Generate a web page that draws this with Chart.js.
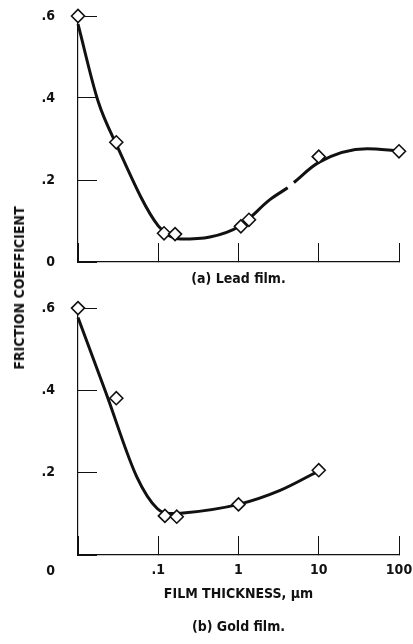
<!DOCTYPE html>
<html>
<head>
<meta charset="utf-8">
<script src="https://cdn.jsdelivr.net/npm/chart.js@4.4.1/dist/chart.umd.min.js"></script>
<style>
  body { margin: 0; background: #fff; }
  #page { position: relative; width: 413px; height: 644px; overflow: hidden; }
  canvas { position: absolute; left: 0; }
  #lead { top: 0; }
  #gold { top: 300px; }
  #ytitle {
    position: absolute; left: 19px; top: 288px;
    transform: translate(-50%, -50%) rotate(-90deg);
    white-space: nowrap; color: #111;
    font: bold 14px "Liberation Sans Narrow", "DejaVu Sans Condensed", "Liberation Sans", sans-serif;
  }
</style>
</head>
<body>
<div id="page">
  <canvas id="lead" width="413" height="300"></canvas>
  <canvas id="gold" width="413" height="344"></canvas>
  <div id="ytitle">FRICTION COEFFICIENT</div>
</div>
<script>
// film thickness (um); the "0" end of the axis sits at 0.01 on the log scale
var xTicks = [0.01, 0.1, 1, 10, 100];
var xTickLabels = ['', '.1', '1', '10', '100'];
var yTicks = [0, 0.2, 0.4, 0.6];
var yTickLabels = ['0', '.2', '.4', '.6'];

// (a) lead film - measured points
var leadX = [0.01, 0.03, 0.118, 0.162, 1.07, 1.35, 10, 100];
var leadY = [0.60, 0.292, 0.070, 0.068, 0.087, 0.103, 0.257, 0.270];
// faired curve (null = small break in the line)
var leadCurveX = [0.01, 0.0178, 0.03, 0.1, 0.19, 0.44, 1.04, 2.46, 4.1, 4.5, 4.9, 10, 40, 100];
var leadCurveY = [0.58, 0.392, 0.287, 0.088, 0.056, 0.061, 0.088, 0.152, 0.181, null, 0.194, 0.243, 0.276, 0.271];

// (b) gold film
var goldX = [0.01, 0.03, 0.121, 0.17, 1.0, 10];
var goldY = [0.60, 0.381, 0.095, 0.093, 0.123, 0.206];
var goldCurveX = [0.01, 0.0224, 0.054, 0.097, 0.14, 0.205, 1.0, 3.3, 9.5];
var goldCurveY = [0.577, 0.393, 0.19, 0.113, 0.101, 0.102, 0.123, 0.157, 0.202];

var FONT = '"Liberation Sans Narrow", "DejaVu Sans Condensed", "Liberation Sans", sans-serif';
var INK = '#111';
Chart.defaults.font.family = FONT;
Chart.defaults.font.size = 14;
Chart.defaults.font.weight = 'bold';
Chart.defaults.color = INK;

function pts(xs, ys) {
  return xs.map(function (x, i) { return { x: x, y: ys[i] }; });
}

function makeChart(id, opt) {
  return new Chart(document.getElementById(id), {
    type: 'scatter',
    data: {
      datasets: [
        {
          data: pts(opt.px, opt.py),
          pointStyle: 'rectRot',
          pointRadius: 6.5,
          pointBorderWidth: 1.6,
          pointBackgroundColor: '#fff',
          pointBorderColor: INK,
          clip: false,
          order: 0
        },
        {
          data: pts(opt.cx, opt.cy),
          showLine: true,
          spanGaps: false,
          cubicInterpolationMode: 'monotone',
          borderColor: INK,
          borderWidth: 3,
          pointRadius: 0,
          clip: false,
          order: 1
        }
      ]
    },
    options: {
      responsive: false,
      animation: false,
      layout: { padding: { top: opt.top, right: 14, left: 0, bottom: 0 } },
      plugins: {
        legend: { display: false },
        tooltip: { enabled: false }
      },
      scales: {
        x: {
          type: 'logarithmic',
          position: 'bottom',
          min: 0.01,
          max: 100,
          afterBuildTicks: function (s) { s.ticks = xTicks.map(function (v) { return { value: v }; }); },
          afterFit: function (s) { s.height = opt.xh; s.paddingLeft = 0; s.paddingRight = 0; },
          ticks: {
            display: opt.xLabels,
            autoSkip: false,
            maxRotation: 0,
            padding: 26,
            callback: function (v, i) { return xTickLabels[i]; }
          },
          grid: { drawOnChartArea: false, drawTicks: true, tickLength: -19, color: INK, lineWidth: 1 },
          border: { display: true, color: INK, width: 1.2 },
          // axis title plus the panel caption, centred under the plot
          title: {
            display: true,
            text: opt.xTitle,
            font: { size: 14, weight: 'bold', lineHeight: '33px' },
            padding: { top: 0, bottom: opt.titlePad }
          }
        },
        y: {
          min: 0,
          max: 0.6,
          afterBuildTicks: function (s) { s.ticks = yTicks.map(function (v) { return { value: v }; }); },
          // inward ticks need a big label padding; keep it from pushing the plot area
          afterFit: function (s) { s.width = 78; s.paddingTop = 0; s.paddingBottom = 0; },
          ticks: {
            padding: 42,
            font: { lineHeight: 1.2 },
            callback: function (v, i) {
              // the bottom panel's zero sits down on the thickness-label line
              if (i === 0 && opt.lowZero) return ['', '', yTickLabels[i]];
              return yTickLabels[i];
            }
          },
          grid: { drawOnChartArea: false, drawTicks: true, tickLength: -19, color: INK, lineWidth: 1 },
          border: { display: true, color: INK, width: 1.2 }
        }
      }
    }
  });
}

makeChart('lead', {
  px: leadX, py: leadY, cx: leadCurveX, cy: leadCurveY,
  top: 16, xh: 38, xLabels: false,
  xTitle: '(a) Lead film.', titlePad: 4.5
});

makeChart('gold', {
  px: goldX, py: goldY, cx: goldCurveX, cy: goldCurveY,
  top: 7, xh: 89, xLabels: true, lowZero: true,
  xTitle: ['FILM THICKNESS, \u00b5m', '(b) Gold film.'], titlePad: 0
});
</script>
</body>
</html>
